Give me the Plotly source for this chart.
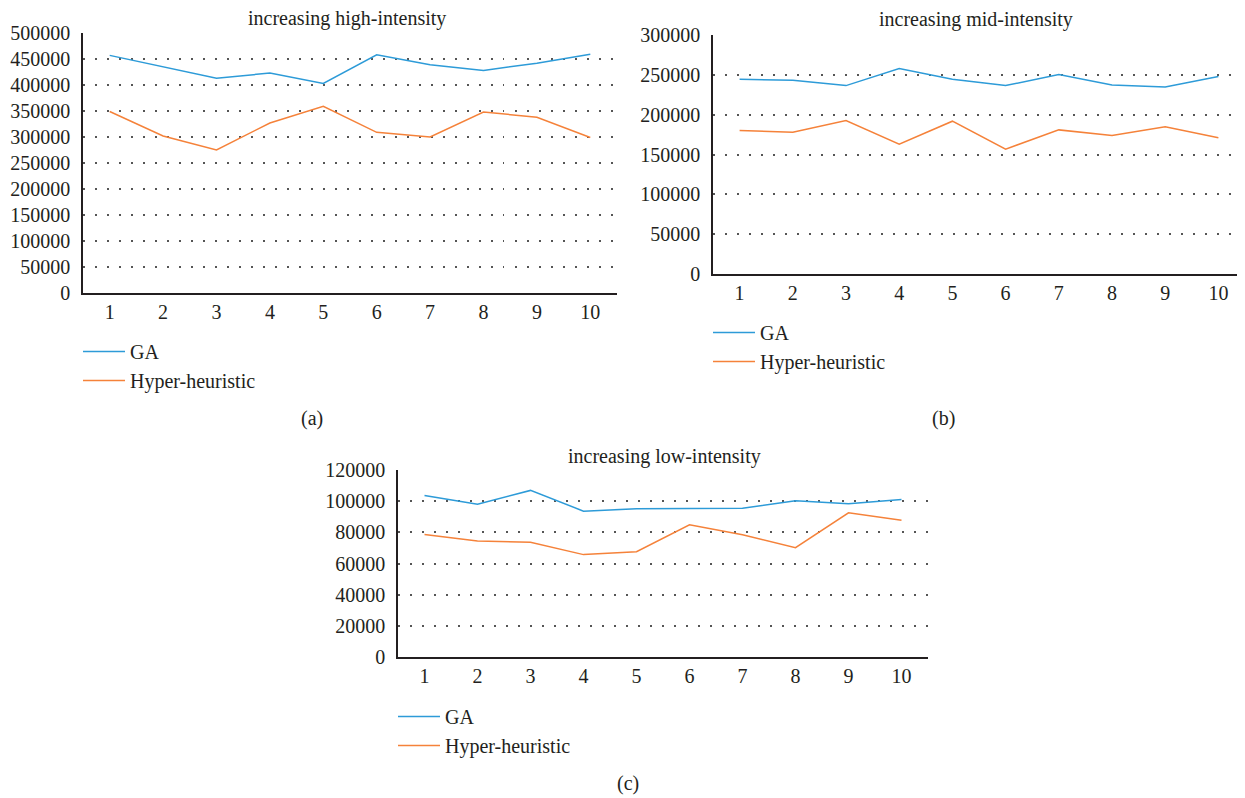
import plotly.graph_objects as go

runs = [1, 2, 3, 4, 5, 6, 7, 8, 9, 10]

# (a) increasing high-intensity
ga_high = [457000, 435000, 413000, 423000, 403000, 458000, 439000, 428000, 442000, 459000]
hh_high = [349000, 302000, 275000, 327000, 359000, 309000, 300000, 348000, 338000, 299000]

# (b) increasing mid-intensity
ga_mid = [244500, 243200, 236500, 257800, 244400, 236500, 250300, 237300, 234800, 247800]
hh_mid = [180100, 178000, 192600, 163000, 191800, 156700, 180900, 173800, 184700, 170900]

# (c) increasing low-intensity
ga_low = [103700, 98100, 106900, 93600, 95100, 95100, 95500, 100300, 98300, 101100]
hh_low = [78600, 74500, 73600, 65700, 67600, 84800, 78400, 70200, 92500, 87800]

titles = ["increasing high-intensity", "increasing mid-intensity", "increasing low-intensity"]
panel_labels = ["(a)", "(b)", "(c)"]
series_names = ["GA", "Hyper-heuristic"]

W, H = 1245, 798
OFF = 8  # default page margin around the figure
FW, FH = W - OFF, H - OFF
BLUE = "#2D9BD8"
ORANGE = "#F5823A"
FONT = "Liberation Serif"
TXT = "#231f20"
FS = 20

def px(x):
    return (x - OFF) / FW

def py(y):
    return 1 - (y - OFF) / FH

# panel geometry in target-image pixels
panels = [
    dict(l=83, r=617, t=33, b=293, ymax=500000, dtick=50000,
         title=(347, 19), legend=(78, 332), lab=(312, 418)),
    dict(l=713, r=1245, t=35, b=274, ymax=300000, dtick=50000,
         title=(976, 20), legend=(708, 313), lab=(943, 418)),
    dict(l=398, r=928, t=470, b=657, ymax=120000, dtick=20000,
         title=(664, 456), legend=(393, 697), lab=(628, 783)),
]

data = [(ga_high, hh_high), (ga_mid, hh_mid), (ga_low, hh_low)]

fig = go.Figure()
layout = dict(
    template="none",
    width=FW, height=FH,
    margin=dict(l=0, r=0, t=0, b=0, pad=0, autoexpand=False),
    paper_bgcolor="white", plot_bgcolor="white",
    font=dict(family=FONT, size=FS, color=TXT),
    annotations=[],
)

for i, (p, (ga, hh)) in enumerate(zip(panels, data)):
    n = "" if i == 0 else str(i + 1)
    leg = "legend" if i == 0 else f"legend{i + 1}"
    for name, vals, col in zip(series_names, (ga, hh), (BLUE, ORANGE)):
        fig.add_trace(go.Scatter(
            x=runs, y=vals, name=name, mode="lines",
            line=dict(color=col, width=1.5),
            xaxis="x" + n, yaxis="y" + n, legend=leg,
            hoverinfo="x+y+name",
        ))
    layout["xaxis" + n] = dict(
        domain=[px(p["l"]), px(p["r"])],
        anchor="y" + n,
        range=[0.5, 10.5],
        tickvals=runs,
        ticks="", automargin=False,
        showgrid=False, zeroline=False,
        showline=True, linecolor="#231f20", linewidth=1.5,
        tickfont=dict(family=FONT, size=FS, color=TXT),
        fixedrange=True,
    )
    layout["yaxis" + n] = dict(
        domain=[py(p["b"]), py(p["t"])],
        anchor="x" + n,
        range=[0, p["ymax"]],
        dtick=p["dtick"],
        tickformat="d",
        ticks="outside", ticklen=7, tickcolor="rgba(0,0,0,0)",
        automargin=False,
        showgrid=True, gridcolor="#555555", gridwidth=1.5,
        griddash="1.5px,10.5px",
        zeroline=False,
        showline=True, linecolor="#231f20", linewidth=1.5,
        tickfont=dict(family=FONT, size=FS, color=TXT),
        fixedrange=True,
    )
    layout[leg] = dict(
        x=px(p["legend"][0]), y=py(p["legend"][1]),
        xanchor="left", yanchor="top",
        orientation="v",
        bgcolor="rgba(0,0,0,0)", borderwidth=0,
        font=dict(family=FONT, size=FS, color=TXT),
        itemwidth=42,
    )
    layout["annotations"].append(dict(
        text=titles[i], x=px(p["title"][0]), y=py(p["title"][1]),
        xref="paper", yref="paper", xanchor="center", yanchor="middle",
        showarrow=False, font=dict(family=FONT, size=FS, color=TXT),
    ))
    layout["annotations"].append(dict(
        text=panel_labels[i], x=px(p["lab"][0]), y=py(p["lab"][1]),
        xref="paper", yref="paper", xanchor="center", yanchor="middle",
        showarrow=False, font=dict(family=FONT, size=FS, color=TXT),
    ))

fig.update_layout(**layout)
fig.write_html("out.html")
